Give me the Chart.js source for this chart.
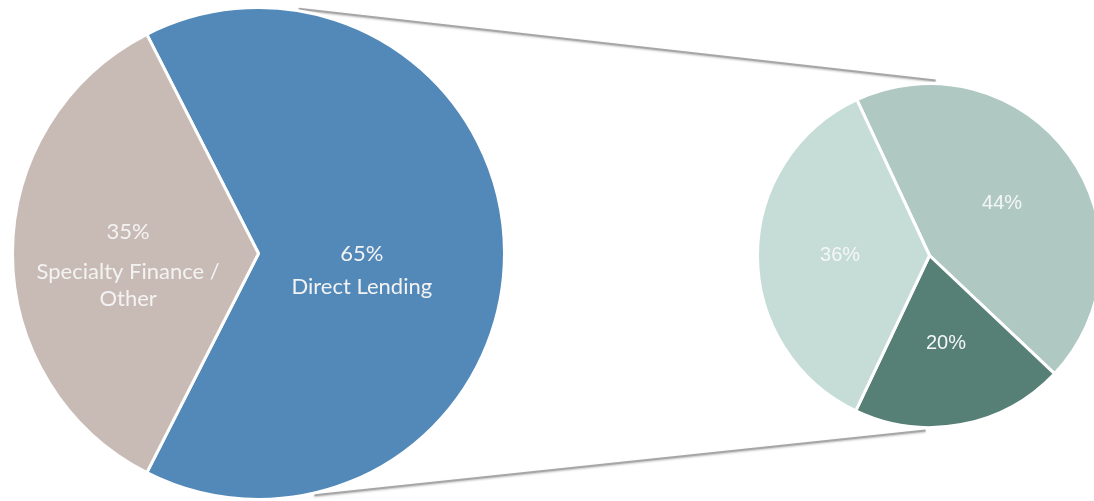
<!DOCTYPE html>
<html>
<head>
<meta charset="utf-8">
<script src="https://cdn.jsdelivr.net/npm/chart.js@4.4.1/dist/chart.umd.min.js"></script>
<style>
  html, body { margin: 0; padding: 0; background: #fff; overflow: hidden; }
  #wrap { position: relative; width: 1094px; height: 501px; overflow: hidden; }
  #bigPie { position: absolute; left: 0; top: 0; }
  #smallPie { position: absolute; left: 756px; top: 82px; }
</style>
</head>
<body>
<div id="wrap">
  <canvas id="bigPie" width="1094" height="501"></canvas>
  <canvas id="smallPie" width="347" height="347"></canvas>
</div>
<script>
// main pie
const mainLabels = ["Direct Lending", "Specialty Finance / Other"];
const mainValues = [65, 35];
const mainColors = ["#5289B8", "#C8BBB5"];

// breakdown pie (of the Direct Lending slice)
const subLabels = ["A", "B", "C"];
const subValues = [44, 20, 36];
const subColors = ["#AFC9C2", "#567F75", "#C6DCD7"];

// label placement per slice: fraction of radius, y shift of the % line, gap to name lines
const mainLabelPos = [
  { f: 0.42, dy: 0, gap: 33, lines: ["Direct Lending"] },
  { f: 0.53, dy: -22, gap: 40, lines: ["Specialty Finance /", "Other"] },
];

const pctText = (v) => v + "%";

const sliceLabels = {
  id: "sliceLabels",
  afterDatasetsDraw(chart, args, opts) {
    const ctx = chart.ctx;
    const meta = chart.getDatasetMeta(0);
    const values = chart.data.datasets[0].data;
    ctx.save();
    ctx.fillStyle = opts.color;
    ctx.font = opts.font;
    ctx.textAlign = "center";
    ctx.textBaseline = "middle";
    meta.data.forEach((arc, i) => {
      const p = arc.getProps(["x", "y", "startAngle", "endAngle", "outerRadius"], true);
      const mid = (p.startAngle + p.endAngle) / 2;
      const pos = opts.pos ? opts.pos[i] : { f: opts.f, dy: 0, gap: 0, lines: [] };
      const x = p.x + Math.cos(mid) * p.outerRadius * pos.f;
      let y = p.y + Math.sin(mid) * p.outerRadius * pos.f + pos.dy;
      ctx.fillText(pctText(values[i]), x, y);
      y += pos.gap;
      pos.lines.forEach((line) => {
        ctx.fillText(line, x, y);
        y += opts.lineHeight;
      });
    });
    ctx.restore();
  },
};

// grey lines joining the two pies
const connectors = {
  id: "connectors",
  beforeDatasetsDraw(chart) {
    if (!window.subChart) return;
    const a = chart.getDatasetMeta(0).data[0].getProps(["x", "y", "outerRadius"], true);
    const b = subChart.getDatasetMeta(0).data[0].getProps(["x", "y", "outerRadius"], true);
    const bx = b.x + 756, by = b.y + 82;
    const pt = (cx, cy, r, deg) => {
      const t = (deg * Math.PI) / 180;
      return [cx + r * Math.sin(t), cy - r * Math.cos(t)];
    };
    const ctx = chart.ctx;
    ctx.save();
    ctx.strokeStyle = "#A6A6A6";
    ctx.lineWidth = 2;
    ctx.shadowColor = "rgba(0,0,0,0.25)";
    ctx.shadowBlur = 2;
    ctx.shadowOffsetY = 1;
    [[9.3, 2], [167, 181.3]].forEach(([da, db]) => {
      const p1 = pt(a.x, a.y, a.outerRadius + 2, da);
      const p2 = pt(bx, by, b.outerRadius + 3, db);
      ctx.beginPath();
      ctx.moveTo(p1[0], p1[1]);
      ctx.lineTo(p2[0], p2[1]);
      ctx.stroke();
    });
    ctx.restore();
  },
};

const baseOptions = {
  responsive: false,
  animation: false,
  events: [],
  plugins: { legend: { display: false }, tooltip: { enabled: false } },
};

window.subChart = new Chart(document.getElementById("smallPie"), {
  type: "pie",
  data: {
    labels: subLabels,
    datasets: [{
      data: subValues,
      backgroundColor: subColors,
      borderColor: "#ffffff",
      borderWidth: 3,
      hoverOffset: 0,
    }],
  },
  options: {
    ...baseOptions,
    rotation: -25,
    layout: { padding: 0 },
    plugins: {
      ...baseOptions.plugins,
      sliceLabels: { color: "#F4F7F6", font: "20px 'Liberation Sans', Arial", f: 0.52, lineHeight: 0 },
    },
  },
  plugins: [sliceLabels],
});

new Chart(document.getElementById("bigPie"), {
  type: "pie",
  data: {
    labels: mainLabels,
    datasets: [{
      data: mainValues,
      backgroundColor: mainColors,
      borderColor: "#ffffff",
      borderWidth: 3,
      hoverOffset: 0,
    }],
  },
  options: {
    ...baseOptions,
    rotation: -27,
    layout: { padding: { left: 11, top: 6, right: 588, bottom: 0 } },
    plugins: {
      ...baseOptions.plugins,
      sliceLabels: { color: "#F3F3F3", font: "22px Lato", pos: mainLabelPos, lineHeight: 27 },
    },
  },
  plugins: [connectors, sliceLabels],
});
</script>
</body>
</html>
